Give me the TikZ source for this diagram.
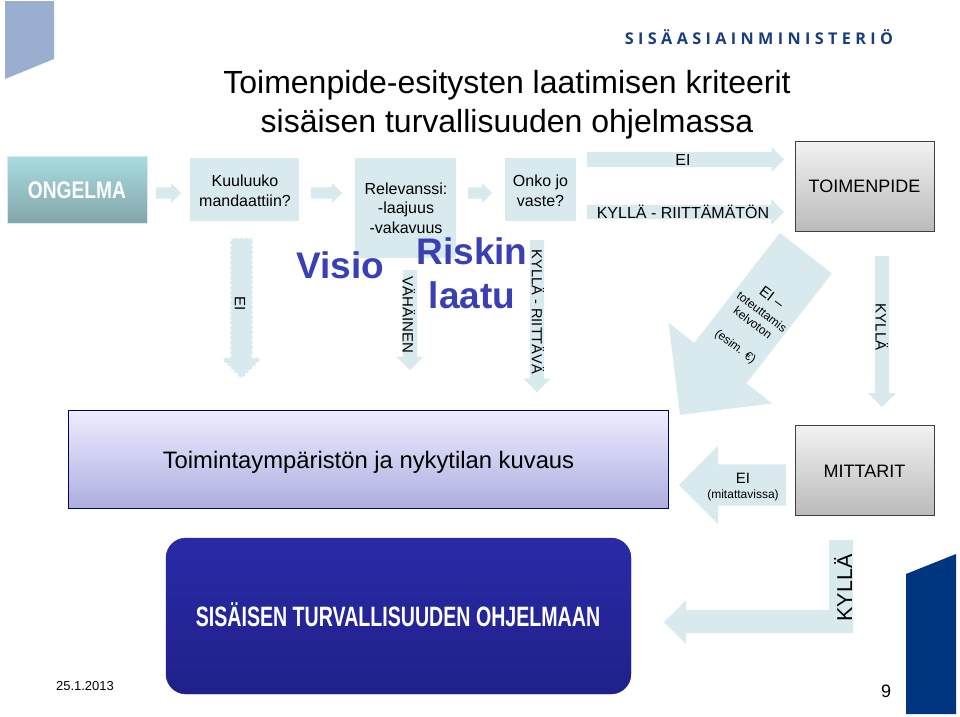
\documentclass[tikz,border=0pt]{standalone}
\usepackage{fontspec}
\usepackage{tikz}
\usetikzlibrary{fit}
\usetikzlibrary{shapes.arrows}
\usetikzlibrary{decorations.pathmorphing}
\setmainfont{Liberation Sans}
\newfontfamily\narrowbold[FakeStretch=.8]{Liberation Sans Bold}
\newfontfamily\narrowerbold[FakeStretch=.7]{Liberation Sans Bold}
\newfontfamily\logofont[LetterSpace=27]{Open Sans}
\definecolor{arrowfill}{HTML}{D8EAEE}
\definecolor{pagelight}{HTML}{9AAFD0}
\definecolor{pagedark}{HTML}{003580}
\definecolor{wordblue}{HTML}{3A3FB4}
\definecolor{logoblue}{HTML}{1A3D7C}
\definecolor{problemtop}{HTML}{A9DCE0}
\definecolor{problembottom}{HTML}{84A5AA}
\definecolor{envbottom}{HTML}{AEAEE0}
\definecolor{progtop}{HTML}{2A2AA8}
\definecolor{progbottom}{HTML}{20208A}
\tikzset{
	question/.style={fill=arrowfill, inner sep=0pt},
	questiontext/.style={inner sep=0pt, align=center, font=\fontsize{16}{19.5}\selectfont},
	greybox/.style={draw=black!75, line width=.8pt, inner sep=0pt, top color=black!5, bottom color=black!27},
	greytext/.style={inner sep=0pt, font=\fontsize{18}{22}\selectfont},
	blockarrow/.style={single arrow, fill=arrowfill, inner sep=0pt, anchor=tail, single arrow tip angle=90, text depth=0pt, text height=#1},
	arrowtext/.style={inner sep=0pt, font=\fontsize{15}{18}\selectfont},
	slanted/.style={inner sep=0pt, rotate=-37, font=\fontsize{12}{15}\selectfont},
	wordart/.style={inner sep=0pt, text=wordblue, font=\fontsize{37}{37}\selectfont\bfseries},
	titleline/.style={inner sep=0pt, font=\fontsize{32}{38}\selectfont}
}

\begin{document}
\begin{tikzpicture}[x=1pt, y=-1pt]
	\useasboundingbox (0,0) rectangle (960,716);

	\fill[pagelight] (5,1) -- (54,1) -- (54,59) -- (5,79) -- cycle;	% corners
	\fill[pagedark] (906,574) -- (956,554) -- (956,714) -- (906,714) -- cycle;
	\node[inner sep=0pt, text=logoblue, font=\fontsize{16.2}{18}\logofont\bfseries] (logo) at (759,37) {SISÄASIAINMINISTERIÖ};

	\node[titleline] (title1) at (507,85) {Toimenpide-esitysten laatimisen kriteerit};
	\node[titleline] (title2) at (507,124) {sisäisen turvallisuuden ohjelmassa};

	\node[fit={(7,156) (147,223)}, inner sep=0pt, draw=arrowfill, top color=problemtop, bottom color=problembottom] (problem) {};	% top row
	\node[inner sep=0pt, text=white, font=\fontsize{24}{26}\narrowbold] (problemtext) at (77,190) {ONGELMA};
	\node[question, fit={(190,158) (299,221)}] (mandate) {};
	\node[questiontext] (mandatetext) at (245,191) {Kuuluuko\\mandaattiin?};
	\node[question, fit={(355,158) (456,258)}] (relevance) {};
	\node[questiontext] (relevancetext) at (406,208) {Relevanssi:\\-laajuus\\-vakavuus};
	\node[question, fit={(505,158) (576,221)}] (response) {};
	\node[questiontext] (responsetext) at (540.5,191) {Onko jo\\vaste?};
	\node[greybox, fit={(795,141) (934,231)}] (action) {};
	\node[greytext] (actiontext) at (864.5,186) {TOIMENPIDE};

	\node[blockarrow=11pt, minimum height=25pt, single arrow head extend=4.5pt] (pm) at (156,193) {};	% Arrows
	\node[blockarrow=11pt, minimum height=31pt, single arrow head extend=4.5pt] (mr) at (311,193) {};
	\node[blockarrow=11pt, minimum height=24pt, single arrow head extend=4.5pt] (rr) at (468,193) {};
	\node[blockarrow=15pt, minimum height=197pt, single arrow head extend=5pt] (noresp) at (587,159.5) {};
	\node[blockarrow=14pt, minimum height=197pt, single arrow head extend=6pt] (insuff) at (587,212) {};
	\node[blockarrow=21pt, rotate=-90, minimum height=140pt, single arrow head extend=9.5pt, decorate, decoration={zigzag, segment length=5pt, amplitude=.9pt}] (nomandate) at (241.5,238) {};
	\node[blockarrow=14pt, rotate=-90, minimum height=100pt, single arrow head extend=6.5pt] (minor) at (410,270) {};
	\node[blockarrow=14pt, rotate=-90, minimum height=152pt, single arrow head extend=6.5pt] (suff) at (537,240) {};
	\node[blockarrow=14pt, rotate=-90, minimum height=151pt, single arrow head extend=7pt] (yes) at (882,256) {};
	\node[blockarrow=65.6pt, rotate=-127.9, minimum height=205pt, single arrow head extend=32.7pt] (infeasible) at (806,253) {};
	\node[blockarrow=41pt, rotate=180, minimum height=107pt, single arrow head extend=18.5pt] (measurable) at (786,485) {};
	\fill[arrowfill] (853,540) -- (829,540) -- (829,610) -- (686,610) -- (686,600) -- (664,622) -- (686,644) -- (686,633) -- (853,633) -- cycle;

	\node[arrowtext, font=\fontsize{16}{18}\selectfont] (noresptext) at (683,160) {EI};
	\node[arrowtext, font=\fontsize{16}{18}\selectfont] (insufftext) at (683,212) {KYLLÄ - RIITTÄMÄTÖN};
	\node[arrowtext, rotate=-90] (nomandatetext) at (240,304) {EI};
	\node[arrowtext, rotate=-90] (minortext) at (409,315) {VÄHÄINEN};
	\node[arrowtext, rotate=-90, font=\fontsize{14.6}{18}\selectfont] (sufftext) at (538,312) {KYLLÄ - RIITTÄVÄ};
	\node[arrowtext, rotate=-90] (yestext) at (882,327) {KYLLÄ};
	\node[slanted, font=\fontsize{15}{18}\selectfont] (infeas1) at (772,297) {EI –};
	\node[slanted] (infeas2) at (762,312) {toteuttamis};
	\node[slanted] (infeas3) at (753,323) {kelvoton};
	\node[slanted] (infeas4) at (735,347) {(esim. €)};

	\node[wordart] (visio) at (340,265) {Visio};	% Word art
	\node[wordart] (riskin) at (472,251) {Riskin};
	\node[wordart] (laatu) at (472,295) {laatu};

	\node[fit={(68,410) (668,508)}, inner sep=0pt, draw=blue!40!black, top color=blue!7!white, bottom color=envbottom] (environment) {};
	\node[inner sep=0pt, font=\fontsize{23.8}{28}\selectfont] (environmenttext) at (368.5,462) {Toimintaympäristön ja nykytilan kuvaus};
	\node[greybox, fit={(795,425) (934,515)}] (metrics) {};
	\node[greytext] (metricstext) at (864.5,471) {MITTARIT};
	\node[arrowtext] (meastext1) at (743,478) {EI};
	\node[arrowtext, font=\fontsize{12}{15}\selectfont] (meastext2) at (743,495) {(mitattavissa)};

	\node[fit={(166,538) (631,694)}, inner sep=0pt, rounded corners=20pt, draw=progbottom, top color=progtop, bottom color=progbottom] (programme) {};
	\node[inner sep=0pt, text=white, font=\fontsize{28}{30}\narrowerbold] (programmetext) at (398,615) {SISÄISEN TURVALLISUUDEN OHJELMAAN};
	\node[arrowtext, rotate=90, font=\fontsize{21.5}{26}\selectfont] (yes2text) at (843,588) {KYLLÄ};

	\node[inner sep=0pt, font=\fontsize{13}{16}\selectfont] (date) at (85,686) {25.1.2013};
	\node[inner sep=0pt, font=\fontsize{18}{22}\selectfont] (pageno) at (886,691) {9};
\end{tikzpicture}
\end{document}
